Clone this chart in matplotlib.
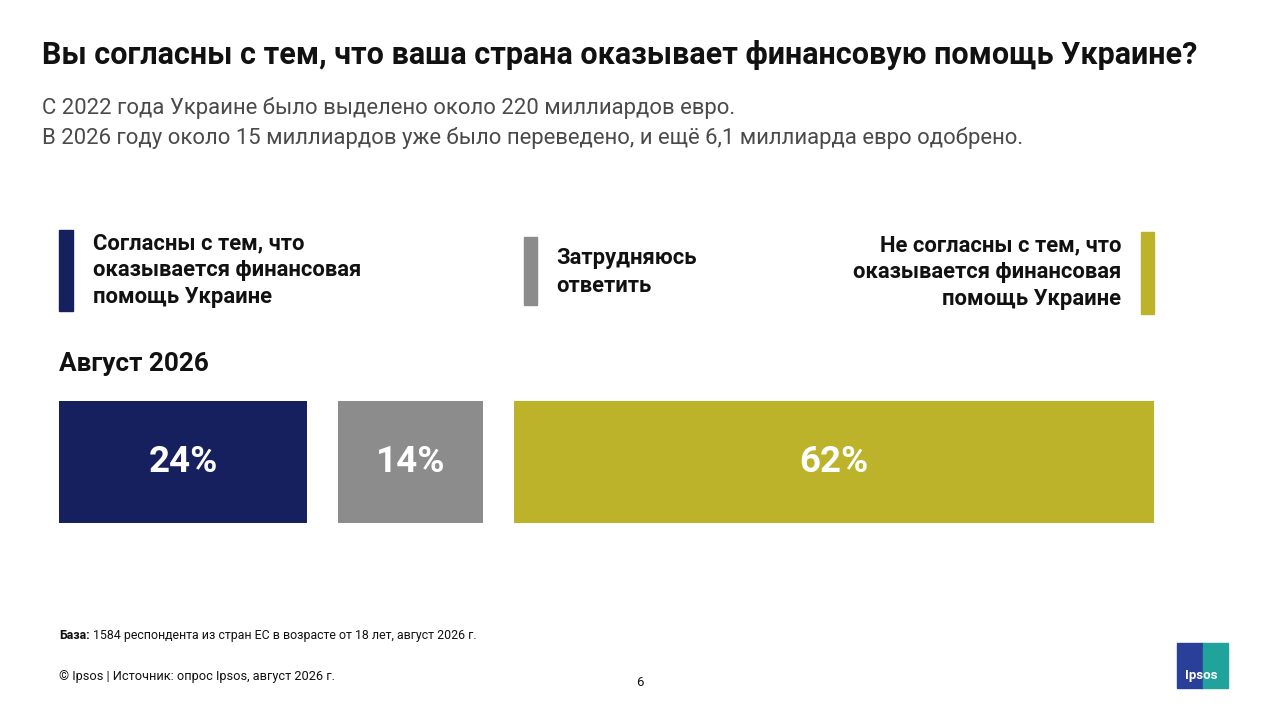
#!/usr/bin/env python3
"""Опрос Ipsos: финансовая помощь Украине (август 2026)."""

import matplotlib
matplotlib.use("Agg")
import matplotlib.pyplot as plt
from matplotlib.patches import Rectangle

plt.rcParams['font.family'] = ['Roboto', 'DejaVu Sans']

# Данные
categories = ["Согласны с тем, что\nоказывается финансовая\nпомощь Украине",
              "Затрудняюсь\nответить",
              "Не согласны с тем, что\nоказывается финансовая\nпомощь Украине"]
values = [24, 14, 62]
colors = ["#17205e", "#8c8c8c", "#bcb32a"]
period = "Август 2026"

title = "Вы согласны с тем, что ваша страна оказывает финансовую помощь Украине?"
subtitle = ("С 2022 года Украине было выделено около 220 миллиардов евро.\n"
            "В 2026 году около 15 миллиардов уже было переведено, и ещё 6,1 миллиарда евро одобрено.")

W, H = 1280, 720
GAP = 3  # промежуток между сегментами (в процентных единицах)

fig = plt.figure(figsize=(12.8, 7.2), dpi=100)
fig.patch.set_facecolor("white")

# Холст в пиксельных координатах для текста и легенды
ax_leg = fig.add_axes([0, 0, 1, 1])
ax_leg.set_xlim(0, W)
ax_leg.set_ylim(H, 0)
ax_leg.axis("off")

# Заголовок и подзаголовок
ax_leg.text(42, 55, title, fontsize=22, fontweight="bold", color="#111111",
            va="center", ha="left")
ax_leg.text(42, 123, subtitle, fontsize=15.9, color="#4a4a4a",
            va="center", ha="left", linespacing=1.45)

# Легенда
ax_leg.add_patch(Rectangle((59, 230), 14, 81, color=colors[0]))
ax_leg.text(93, 270, categories[0], fontsize=15.8, fontweight="bold", color="#111111",
            va="center", ha="left", linespacing=1.3)
ax_leg.add_patch(Rectangle((524, 237), 13, 68, color=colors[1]))
ax_leg.text(556, 272, categories[1], fontsize=15.8, fontweight="bold", color="#111111",
            va="center", ha="left", linespacing=1.3)
ax_leg.add_patch(Rectangle((1141, 232), 13, 82, color=colors[2]))
ax_leg.text(1121, 272, categories[2], fontsize=15.8, fontweight="bold", color="#111111",
            va="center", ha="right", linespacing=1.3, multialignment="right")

ax_leg.text(59, 364, period, fontsize=18.8, fontweight="bold", color="#111111",
            va="center", ha="left")

# Подвал
t = ax_leg.text(59, 639, "База:", fontsize=8.9, fontweight="bold", color="#111111",
                va="baseline", ha="left")
fig.canvas.draw()
x_end = ax_leg.transData.inverted().transform((t.get_window_extent().x1, 0))[0] + 3
ax_leg.text(x_end, 639, "1584 респондента из стран ЕС в возрасте от 18 лет, август 2026 г.",
            fontsize=8.9, color="#111111", va="baseline", ha="left")
ax_leg.text(59, 680, "© Ipsos | Источник: опрос Ipsos, август 2026 г.",
            fontsize=9.2, color="#111111", va="baseline", ha="left")
ax_leg.text(640, 686, "6", fontsize=9.5, color="#111111", va="baseline", ha="center")

# Логотип Ipsos
ax_leg.add_patch(Rectangle((1177, 643), 26, 45, color="#2a3f9a"))
ax_leg.add_patch(Rectangle((1203, 643), 25, 45, color="#1fa39a"))
ax_leg.text(1201, 675, "Ipsos", fontsize=9.5, fontweight="bold", color="white",
            va="center", ha="center")

# Полоса с процентами
ax = fig.add_axes([59 / W, 1 - 523 / H, (1154 - 59) / W, (523 - 401) / H])
left = 0
for v, c in zip(values, colors):
    ax.barh(0, v, left=left, height=1, color=c, edgecolor="none")
    ax.text(left + v / 2, 0, f"{v}%", fontsize=26.5, fontweight="bold", color="white",
            va="center", ha="center")
    left += v + GAP
ax.set_xlim(0, 100 + GAP * (len(values) - 1))
ax.set_ylim(-0.5, 0.5)
ax.axis("off")

fig.savefig("out.png", dpi=100, facecolor="white")
